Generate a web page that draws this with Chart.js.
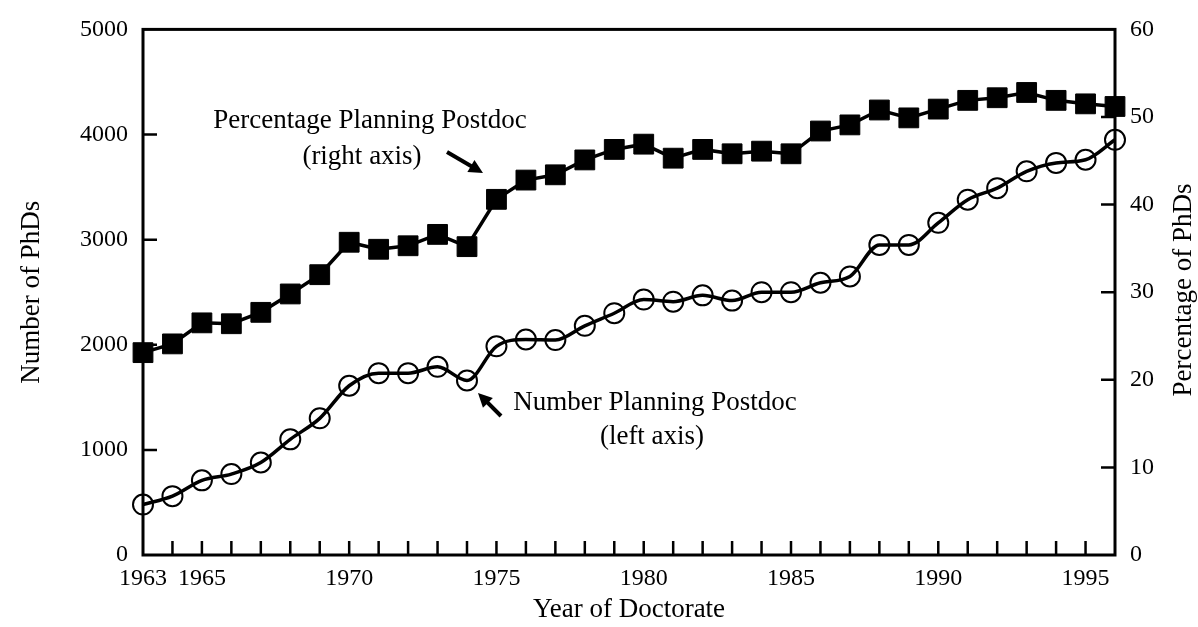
<!DOCTYPE html>
<html><head><meta charset="utf-8">
<script src="https://cdn.jsdelivr.net/npm/chart.js@4/dist/chart.umd.min.js"></script>
<style>html,body{margin:0;padding:0;background:#fff}#wrap{width:1198px;height:627px}</style>
</head><body><div id="wrap"><canvas id="c" width="1198" height="627"></canvas></div>
<script>
const years = [1963,1964,1965,1966,1967,1968,1969,1970,1971,1972,1973,1974,1975,1976,1977,1978,1979,1980,1981,1982,1983,1984,1985,1986,1987,1988,1989,1990,1991,1992,1993,1994,1995,1996];
const numberPlanning = [480,560,710,770,880,1100,1300,1610,1730,1730,1790,1660,1985,2050,2045,2180,2300,2430,2410,2470,2420,2500,2500,2590,2650,2950,2950,3160,3380,3490,3650,3730,3760,3950];
const percentPlanning = [23.1,24.1,26.5,26.4,27.7,29.8,32.0,35.7,34.9,35.3,36.6,35.2,40.6,42.8,43.4,45.1,46.3,46.9,45.3,46.3,45.8,46.1,45.8,48.4,49.1,50.8,49.9,50.9,51.9,52.2,52.8,51.9,51.5,51.2];
const xTickLabels = [1963,1965,1970,1975,1980,1985,1990,1995];
const leftTicks = [0,1000,2000,3000,4000,5000];
const rightTicks = [0,10,20,30,40,50,60];

const FAM = "'Liberation Serif','Times New Roman',serif";
const tickFont = {family: FAM, size: 24};
const titleFont = {family: FAM, size: 27};

const framePlugin = {
  id: 'frame',
  beforeDatasetsDraw(chart) {
    const {ctx, chartArea: a, scales} = chart;
    ctx.save();
    ctx.strokeStyle = '#000';
    ctx.lineWidth = 3;
    ctx.strokeRect(a.left, a.top, a.right - a.left, a.bottom - a.top);
    ctx.lineWidth = 2.5;
    ctx.beginPath();
    years.forEach(y => {
      if (y === years[0] || y === years[years.length - 1]) return;
      const px = scales.x.getPixelForValue(y);
      ctx.moveTo(px, a.bottom); ctx.lineTo(px, a.bottom - 14);
    });
    leftTicks.slice(1, -1).forEach(v => {
      const py = scales.y.getPixelForValue(v);
      ctx.moveTo(a.left, py); ctx.lineTo(a.left + 14, py);
    });
    rightTicks.slice(1, -1).forEach(v => {
      const py = scales.y1.getPixelForValue(v);
      ctx.moveTo(a.right, py); ctx.lineTo(a.right - 14, py);
    });
    ctx.stroke();
    ctx.restore();
  },
  afterDraw(chart) {
    const {ctx} = chart;
    ctx.save();
    ctx.fillStyle = '#000';
    ctx.strokeStyle = '#000';
    // right axis title
    ctx.save();
    ctx.translate(1184, 290);
    ctx.rotate(-Math.PI / 2);
    ctx.font = `27px ${FAM}`;
    ctx.textAlign = 'center';
    ctx.textBaseline = 'middle';
    ctx.fillText('Percentage of PhDs', 0, 0);
    ctx.restore();
    // annotations
    ctx.font = `27px ${FAM}`;
    ctx.textAlign = 'center';
    ctx.textBaseline = 'alphabetic';
    ctx.fillText('Percentage Planning Postdoc', 370, 128);
    ctx.fillText('(right axis)', 362, 164);
    ctx.fillText('Number Planning Postdoc', 655, 410);
    ctx.fillText('(left axis)', 652, 444);
    const arrow = (x1, y1, x2, y2) => {
      const ang = Math.atan2(y2 - y1, x2 - x1);
      ctx.lineWidth = 4;
      ctx.beginPath();
      ctx.moveTo(x1, y1);
      ctx.lineTo(x2 - 8 * Math.cos(ang), y2 - 8 * Math.sin(ang));
      ctx.stroke();
      ctx.beginPath();
      ctx.moveTo(x2, y2);
      ctx.lineTo(x2 - 14 * Math.cos(ang) + 7 * Math.sin(ang), y2 - 14 * Math.sin(ang) - 7 * Math.cos(ang));
      ctx.lineTo(x2 - 14 * Math.cos(ang) - 7 * Math.sin(ang), y2 - 14 * Math.sin(ang) + 7 * Math.cos(ang));
      ctx.closePath();
      ctx.fill();
    };
    arrow(447, 152, 483, 173);
    arrow(501, 416, 478, 393);
    ctx.restore();
  }
};

new Chart(document.getElementById('c'), {
  type: 'line',
  data: {
    datasets: [
      {
        label: 'Percentage Planning Postdoc',
        yAxisID: 'y1',
        data: years.map((y, i) => ({x: y, y: percentPlanning[i]})),
        borderColor: '#000',
        borderWidth: 3.5,
        pointStyle: 'rect',
        pointRadius: 14,
        pointBorderWidth: 1,
        pointBackgroundColor: '#000',
        pointBorderColor: '#000',
        tension: 0,
        clip: false
      },
      {
        label: 'Number Planning Postdoc',
        yAxisID: 'y',
        data: years.map((y, i) => ({x: y, y: numberPlanning[i]})),
        borderColor: '#000',
        borderWidth: 3.5,
        pointStyle: 'circle',
        pointRadius: 10,
        pointBorderWidth: 2,
        pointBackgroundColor: 'rgba(0,0,0,0)',
        pointBorderColor: '#000',
        cubicInterpolationMode: 'monotone',
        clip: false
      }
    ]
  },
  options: {
    responsive: false,
    animation: false,
    devicePixelRatio: 1,
    layout: {padding: {top: 25, left: 0, right: 0, bottom: 0}},
    plugins: {legend: {display: false}, tooltip: {enabled: false}},
    scales: {
      x: {
        type: 'linear', min: 1963, max: 1996,
        afterFit: s => { s.height = 72; },
        afterBuildTicks: s => { s.ticks = years.map(v => ({value: v})); },
        ticks: {autoSkip: false, maxRotation: 0, padding: 9, font: tickFont, color: '#000',
          callback: v => xTickLabels.includes(v) ? String(v) : ''},
        grid: {display: false, drawTicks: false},
        border: {display: false},
        title: {display: true, text: 'Year of Doctorate', font: titleFont, color: '#000', padding: {top: 0, bottom: 1}}
      },
      y: {
        position: 'left', min: 0, max: 5000,
        afterFit: s => { s.width = 143; },
        afterBuildTicks: s => { s.ticks = leftTicks.map(v => ({value: v})); },
        ticks: {padding: 15, font: tickFont, color: '#000', callback: v => String(v)},
        grid: {display: false, drawTicks: false},
        border: {display: false},
        title: {display: true, text: 'Number of PhDs', font: titleFont, color: '#000', padding: {top: 16, bottom: 0}}
      },
      y1: {
        position: 'right', min: 0, max: 60,
        afterFit: s => { s.width = 83; },
        afterBuildTicks: s => { s.ticks = rightTicks.map(v => ({value: v})); },
        ticks: {padding: 15, font: tickFont, color: '#000', callback: v => String(v)},
        grid: {display: false, drawTicks: false},
        border: {display: false}
      }
    }
  },
  plugins: [framePlugin]
});
</script>
</body></html>
